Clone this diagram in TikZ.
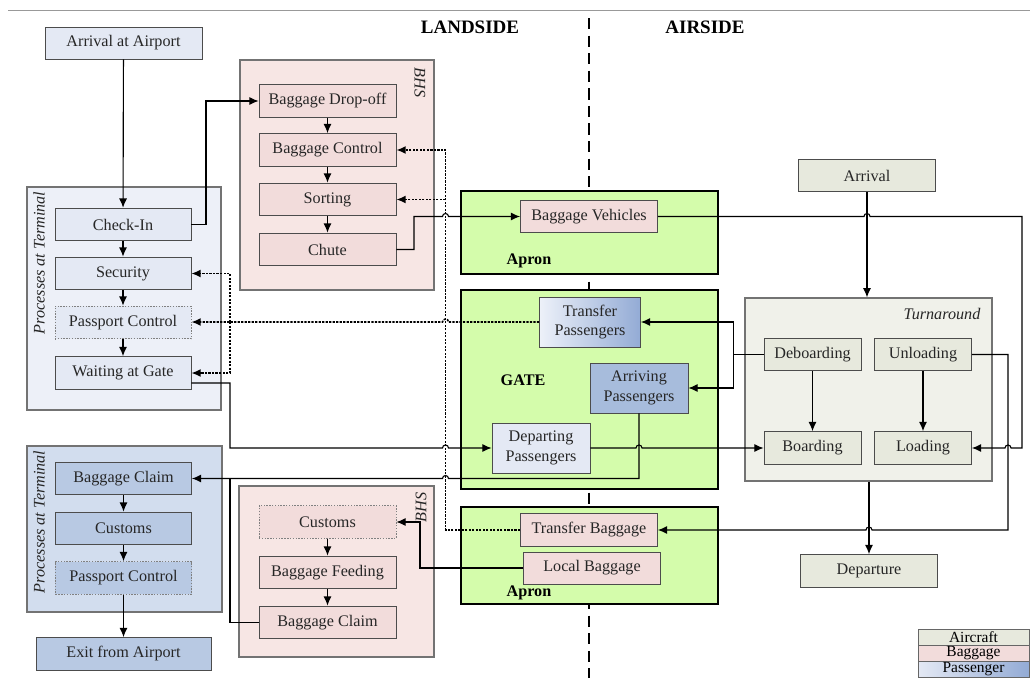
\documentclass[tikz,border=0pt]{standalone}
\usepackage{fontspec}
\setmainfont{Liberation Serif}
\usetikzlibrary{arrows.meta}

\definecolor{paxlight}{HTML}{E4E9F4}
\definecolor{paxgrpa}{HTML}{EDF0F8}
\definecolor{paxgrpb}{HTML}{D2DDEE}
\definecolor{paxdark}{HTML}{B8C9E3}
\definecolor{paxarr}{HTML}{A7BCDC}
\definecolor{paxgl}{HTML}{EDF1F9}
\definecolor{paxgr}{HTML}{93ABD5}
\definecolor{baglight}{HTML}{F2DCDB}
\definecolor{bhsfill}{HTML}{F7E6E4}
\definecolor{acftfill}{HTML}{E7E9DD}
\definecolor{turnfill}{HTML}{F0F1EA}
\definecolor{apronfill}{HTML}{D4FCAB}

\tikzset{
	box/.style={draw=black!70, line width=0.6pt, minimum width=3.4cm, minimum height=0.82cm,
		inner sep=1pt, align=center, text=black!85, font=\fontsize{11.5}{14}\selectfont},
	pax/.style={box, fill=paxlight},
	bag/.style={box, fill=baglight, minimum width=3.425cm},
	acft/.style={box, fill=acftfill, minimum width=3.425cm},
	turnbox/.style={box, fill=acftfill, minimum width=2.425cm},
	gatepax/.style={box, minimum width=2.45cm, minimum height=1.25cm},
	dotbox/.style={draw=black!50, dash pattern=on 1pt off 1pt},
	grp/.style={draw=black!55, line width=0.8pt, inner sep=0pt},
	apron/.style={draw=black, line width=2pt, fill=apronfill, inner sep=0pt, minimum width=6.425cm},
	grplabel/.style={font=\itshape\fontsize{11.5}{14}\selectfont, inner sep=1pt, text=black!85},
	zone/.style={font=\bfseries\fontsize{11.5}{14}\selectfont},
	side/.style={font=\bfseries\fontsize{13.5}{16}\selectfont},
	legendrow/.style={draw=black!60, line width=0.5pt, minimum width=2.775cm, minimum height=0.4cm,
		inner sep=0pt, font=\fontsize{11}{12}\selectfont},
	link/.style={line width=0.8pt},
	flow/.style={link, -{Latex[length=2.3mm,width=2mm]}},
	dots/.style={line width=1.1pt, dash pattern=on 1.6pt off 0.9pt},
	dotflow/.style={dots, -{Latex[length=2.3mm,width=2mm]}}
}

\begin{document}
\begin{tikzpicture}[x=0.025cm, y=-0.025cm]
	\useasboundingbox (0,0) rectangle (1030,678);
	
	% Frame and divider
	\draw[black!40, line width=0.6pt] (8,10) -- (1030,10);
	\draw[line width=1.6pt, dash pattern=on 8pt off 4.5pt] (589,18) -- (589,678);
	\node[side] (landside) at (470,27) {LANDSIDE};
	\node[side] (airside) at (705,27) {AIRSIDE};
	
	% Groups
	\node[grp, fill=paxgrpa, minimum width=4.85cm, minimum height=5.575cm] (term1) at (124,298.5) {};
	\node[grp, fill=bhsfill, minimum width=4.85cm, minimum height=5.75cm] (bhs1) at (337,175) {};
	\node[grp, fill=paxgrpb, minimum width=4.875cm, minimum height=4.15cm] (term2) at (124.5,529) {};
	\node[grp, fill=bhsfill, minimum width=4.875cm, minimum height=4.275cm] (bhs2) at (336.5,571.5) {};
	\node[grp, fill=turnfill, minimum width=6.175cm, minimum height=4.575cm] (turn) at (868.5,389.5) {};
	\node[apron, minimum height=2.075cm] (apron1) at (589.5,232.5) {};
	\node[apron, minimum height=4.975cm] (gate) at (589.5,389.5) {};
	\node[apron, minimum height=2.425cm] (apron2) at (589.5,555.5) {};
	
	\node[grplabel, rotate=90, anchor=east] (term1lbl) at (39,190) {Processes at Terminal};
	\node[grplabel, rotate=90, anchor=east] (term2lbl) at (39,449) {Processes at Terminal};
	\node[grplabel, rotate=-90, anchor=west] (bhs1lbl) at (420,66) {BHS};
	\node[grplabel, rotate=90, anchor=east] (bhs2lbl) at (421,491) {BHS};
	\node[grplabel] (turnlbl) at (942,314) {Turnaround};
	\node[zone] (apron1lbl) at (529,261) {Apron};
	\node[zone] (gatelbl) at (523,380) {GATE};
	\node[zone] (apron2lbl) at (529,593) {Apron};
	
	% Passenger nodes
	\node[pax, minimum width=3.925cm, minimum height=0.8cm] (arrairport) at (123.5,43) {Arrival at Airport};
	\node[pax] (checkin) at (123,224.5) {Check-In};
	\node[pax] (security) at (123,273.5) {Security};
	\node[pax, dotbox] (passport1) at (123,322.5) {Passport Control};
	\node[pax] (waiting) at (123,373) {Waiting at Gate};
	\node[pax, fill=paxdark] (bagclaim1) at (123.5,478.5) {Baggage Claim};
	\node[pax, fill=paxdark] (customs1) at (123.5,528.5) {Customs};
	\node[pax, fill=paxdark, dotbox] (passport2) at (123.5,578) {Passport Control};
	\node[pax, fill=paxdark, minimum width=4.375cm] (exit) at (123.5,654) {Exit from Airport};
	\node[gatepax, left color=paxgl, right color=paxgr, minimum width=2.525cm] (transpax) at (590,322) {Transfer\\Passengers};
	\node[gatepax, fill=paxarr] (arrpax) at (639,388) {Arriving\\Passengers};
	\node[gatepax, fill=paxlight] (deppax) at (541,448) {Departing\\Passengers};
	
	% Baggage nodes
	\node[bag] (dropoff) at (327.5,101) {Baggage Drop-off};
	\node[bag] (bagctrl) at (327.5,150) {Baggage Control};
	\node[bag] (sorting) at (327.5,199.5) {Sorting};
	\node[bag] (chute) at (327.5,249.5) {Chute};
	\node[bag, dotbox] (customs2) at (327.5,522) {Customs};
	\node[bag] (feeding) at (327.5,572.5) {Baggage Feeding};
	\node[bag] (bagclaim2) at (327.5,622.5) {Baggage Claim};
	\node[bag] (bagveh) at (589,216.5) {Baggage Vehicles};
	\node[bag] (transbag) at (589,530) {Transfer Baggage};
	\node[bag, minimum height=0.8cm] (localbag) at (592,568) {Local Baggage};
	
	% Aircraft nodes
	\node[acft] (arrival) at (867,175.5) {Arrival};
	\node[acft] (departure) at (869,571) {Departure};
	\node[turnbox] (deboard) at (812.5,354.5) {Deboarding};
	\node[turnbox] (unload) at (923,354.5) {Unloading};
	\node[turnbox] (board) at (812.5,448) {Boarding};
	\node[turnbox] (load) at (923,448) {Loading};
	
	% Legend
	\node[legendrow, fill=acftfill] (lgaircraft) at (973.5,637) {Aircraft};
	\node[legendrow, fill=baglight] (lgbaggage) at (973.5,653) {Baggage};
	\node[legendrow, left color=paxlight, right color=paxgr] (lgpassenger) at (973.5,669) {Passenger};
	
	% Terminal flows
	\draw[flow] (arrairport) -- (checkin);
	\draw[flow] (checkin) -- (security);
	\draw[flow] (security) -- (passport1);
	\draw[flow] (passport1) -- (waiting);
	\draw[flow] (bagclaim1) -- (customs1);
	\draw[flow] (customs1) -- (passport2);
	\draw[flow] (passport2) -- (exit);
	\draw[flow] (checkin.east) -- (206,224.5) |- (dropoff.west);
	
	% BHS flows
	\draw[flow] (dropoff) -- (bagctrl);
	\draw[flow] (bagctrl) -- (sorting);
	\draw[flow] (sorting) -- (chute);
	\draw[flow] (customs2) -- (feeding);
	\draw[flow] (feeding) -- (bagclaim2);
	\draw[flow] (chute.east) -- (414,249.5) -- (414,216.5) -- (442.5,216.5)
		arc[start angle=180, end angle=360, radius=3] -- (bagveh.west);
	\draw[flow] (localbag.west) -- (420,568) -- (420,522) -- (customs2.east);
	\draw[link] (bagclaim2.west) -- (230,622.5) -- (230,478.5);
	
	% Transfer (dotted)
	\draw[dotflow] (transbag.west) -- (445.5,530) -- (445.5,150) -- (bagctrl.east);
	\draw[dotflow] (445.5,199.5) -- (sorting.east);
	\draw[dotflow] (transpax.west) -- (448.5,322)
		arc[start angle=0, end angle=-180, radius=3] -- (passport1.east |- 0,322);
	\draw[dotflow] (230,322) -- (230,273.5) -- (security.east);
	\draw[dotflow] (230,322) -- (230,373) -- (waiting.east);
	
	% Gate flows
	\draw[flow] ([yshift=-0.25cm]waiting.east) -- (230,383) -- (230,448) -- (442.5,448)
		arc[start angle=180, end angle=360, radius=3] -- (deppax.west);
	\draw[flow] (arrpax.south) -- (639,478.5) -- (448.5,478.5)
		arc[start angle=0, end angle=-180, radius=3] -- (bagclaim1.east);
	\draw[flow] (deppax.east) -- (636,448) arc[start angle=180, end angle=360, radius=3] -- (board.west);
	\draw[flow] (deboard.west) -- (733.5,354.5) |- (transpax.east);
	\draw[flow] (733.5,354.5) |- (arrpax.east);
	
	% Aircraft flows
	\draw[flow] (arrival.south) -- (arrival.south |- turn.north);
	\draw[flow] (departure.north |- turn.south) -- (departure.north);
	\draw[flow] (deboard) -- (board);
	\draw[flow] (unload) -- (load);
	\draw[flow] (unload.east) -- (1008,354.5) -- (1008,530) -- (872,530)
		arc[start angle=0, end angle=-180, radius=3] -- (transbag.east);
	\draw[flow] (bagveh.east) -- (864,216.5) arc[start angle=180, end angle=360, radius=3]
		-- (1022,216.5) -- (1022,448) -- (1011,448)
		arc[start angle=0, end angle=-180, radius=3] -- (load.east);
\end{tikzpicture}
\end{document}
